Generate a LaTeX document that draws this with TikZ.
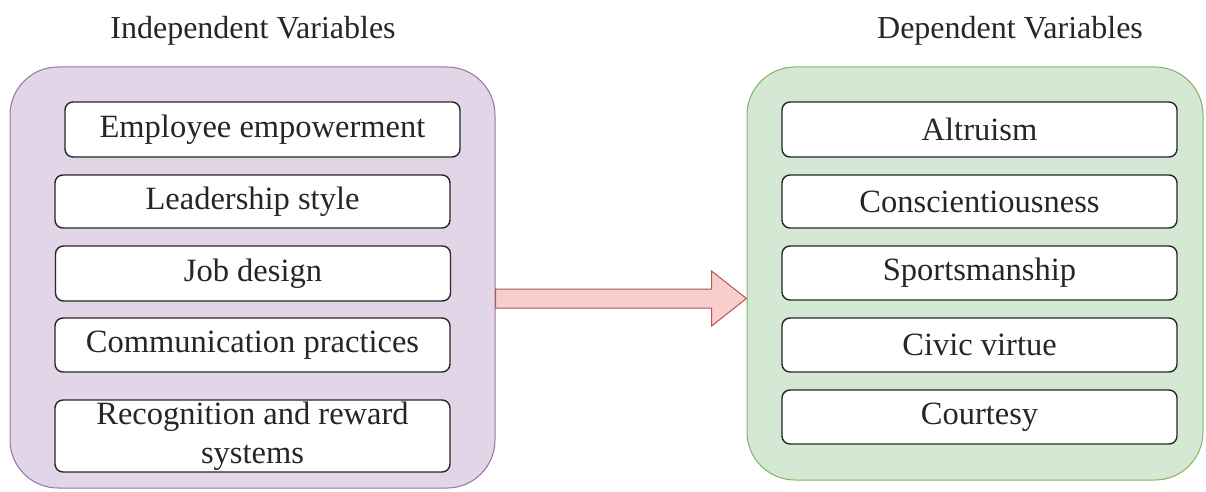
\documentclass[tikz,border=0pt]{standalone}
\usepackage{fontspec}
\setmainfont{Liberation Serif}
\usetikzlibrary{calc}

\definecolor{indepfill}{HTML}{E1D5E7}
\definecolor{indepline}{HTML}{9673A6}
\definecolor{depfill}{HTML}{D5E8D4}
\definecolor{depline}{HTML}{82B366}
\definecolor{arrowfill}{HTML}{F8CECC}
\definecolor{arrowline}{HTML}{B85450}
\definecolor{itemline}{HTML}{262626}

\begin{document}
\begin{tikzpicture}[x=1pt, y=-1pt,
  group/.style={rectangle, rounded corners=48pt, line width=1pt, inner sep=0pt},
  itembox/.style={rectangle, rounded corners=8pt, draw=itemline, fill=white,
    line width=1.4pt, minimum width=395pt, minimum height=54pt, inner sep=0pt,
    align=center, font=\fontsize{32.5}{39}\selectfont, text=black!85},
  heading/.style={font=\fontsize{32}{38}\selectfont, text=black!85, inner sep=0pt},
  bigarrow/.style={fill=arrowfill, draw=arrowline, line width=1pt, line join=miter}]

\useasboundingbox (0,0) rectangle (1206,492);

% Containers
\node[group, fill=indepfill, draw=indepline, minimum width=485pt, minimum height=421pt]
  (indep) at (252.5,277.5) {};
\node[group, fill=depfill, draw=depline, minimum width=456pt, minimum height=413pt]
  (dep) at (975,273.5) {};

% Headings
\node[heading] (indeptitle) at (253,31) {Independent Variables};
\node[heading] (deptitle) at (1010,31) {Dependent Variables};

% Independent variables
\node[itembox, minimum height=55pt] (empower) at (262.5,129.5) {Employee empowerment};
\node[itembox, minimum height=53pt] (leader) at (252.5,201.5) {Leadership style};
\node[itembox, minimum height=55pt] (job) at (253,273.5) {Job design};
\node[itembox] (comm) at (252.5,345) {Communication practices};
\node[itembox, minimum height=72pt] (reward) at (252.5,436) {Recognition and reward\\systems};

% Dependent variables
\node[itembox, minimum height=55pt] (altru) at (979.5,129.5) {Altruism};
\node[itembox, minimum height=53pt] (consc) at (979.5,201.5) {Conscientiousness};
\node[itembox] (sport) at (979.5,273) {Sportsmanship};
\node[itembox] (civic) at (979.5,345) {Civic virtue};
\node[itembox] (court) at (979.5,417) {Courtesy};

% Block arrow from the independent to the dependent group
\coordinate (tail) at (indep.east |- 0,298.5);
\coordinate (tip) at (dep.west |- 0,298.5);
\draw[bigarrow] ($(tail)+(0,-9.5)$) -- ($(tip)+(-35,-9.5)$) -- ($(tip)+(-35,-27.5)$)
  -- (tip) -- ($(tip)+(-35,27.5)$) -- ($(tip)+(-35,9.5)$) -- ($(tail)+(0,9.5)$) -- cycle;

\end{tikzpicture}
\end{document}
